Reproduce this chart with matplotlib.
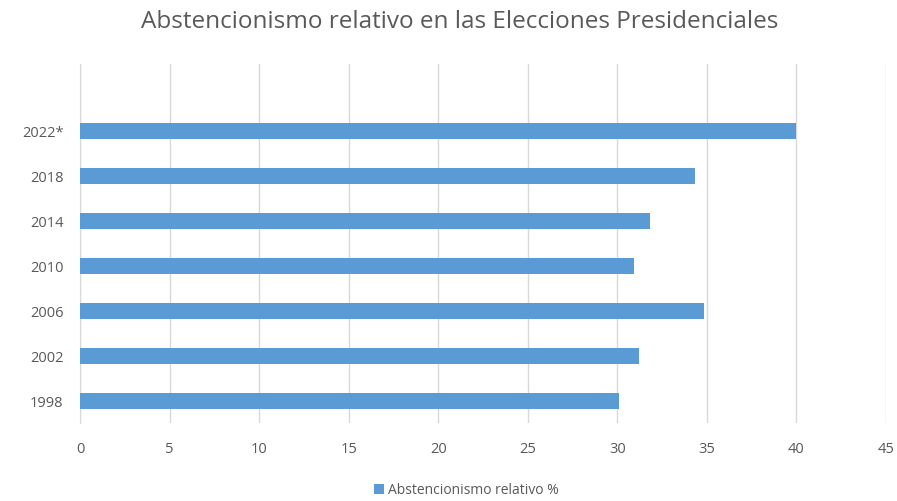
import matplotlib.pyplot as plt

# Data
years = ["1998", "2002", "2006", "2010", "2014", "2018", "2022*"]
abstencion = [30.1, 31.2, 34.85, 30.95, 31.85, 34.35, 40.0]

bar_color = "#5B9BD5"
text_color = "#595959"
grid_color = "#D9D9D9"

plt.rcParams["font.family"] = ["Open Sans", "DejaVu Sans"]

fig = plt.figure(figsize=(8.97, 5.01), dpi=100)
ax = fig.add_axes([0.0892, 0.1547, 0.8985, 0.7183])

ax.barh(range(len(years)), abstencion, height=0.37, color=bar_color,
        label="Abstencionismo relativo %", zorder=3)

ax.set_xlim(0, 45)
ax.set_ylim(-0.5, len(years) + 0.5)
ax.set_xticks(range(0, 46, 5))
ax.set_yticks(range(len(years)))
ax.set_yticklabels(years)

ax.grid(axis="x", color=grid_color, linewidth=1, zorder=0)
for side in ["top", "right", "bottom"]:
    ax.spines[side].set_visible(False)
ax.spines["left"].set_color(grid_color)
ax.tick_params(length=0, colors=text_color, labelsize=10.5)
ax.tick_params(axis="x", pad=13)
ax.tick_params(axis="y", pad=12)

fig.suptitle("Abstencionismo relativo en las Elecciones Presidenciales",
             x=0.513, y=0.98, fontsize=17.5, color=text_color)

leg = fig.legend(loc="lower center", bbox_to_anchor=(0.52, -0.018), frameon=False,
                 fontsize=10, handlelength=0.7, handleheight=0.7, handletextpad=0.3)
for t in leg.get_texts():
    t.set_color(text_color)

fig.savefig("out.png", dpi=100)
